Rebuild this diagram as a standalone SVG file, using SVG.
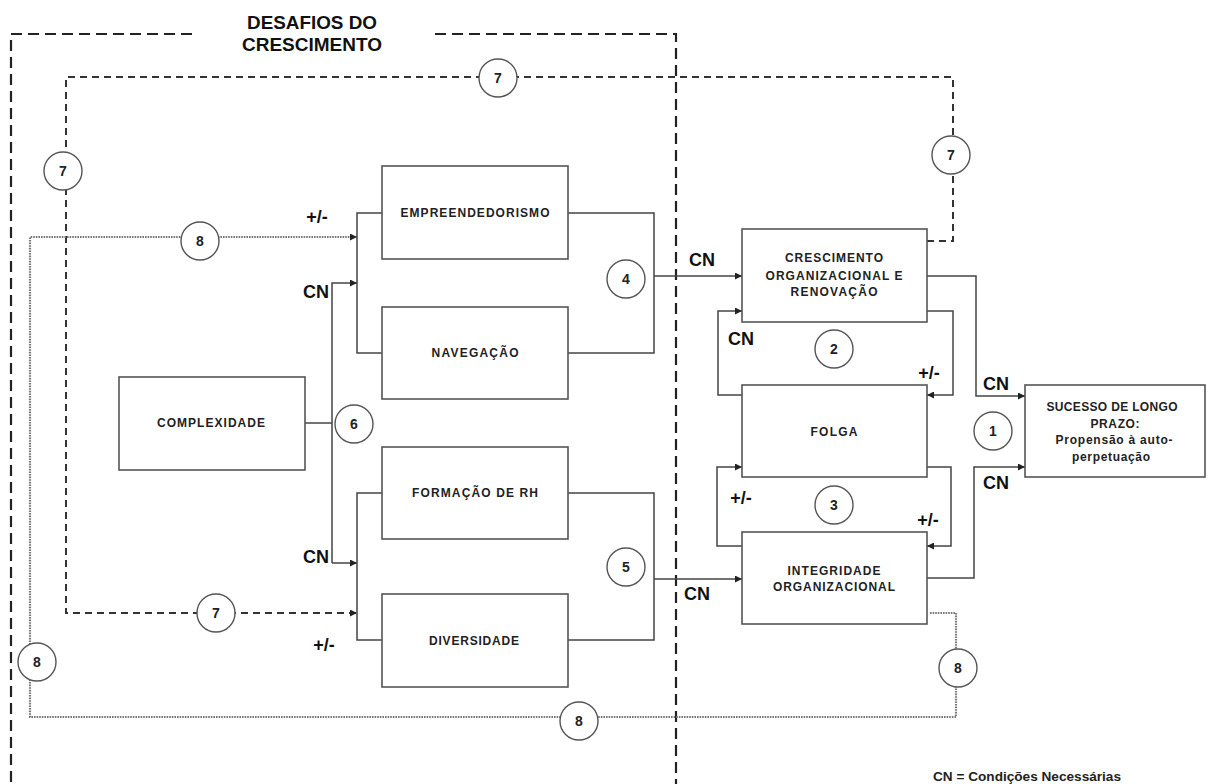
<svg xmlns="http://www.w3.org/2000/svg" width="1209" height="784" viewBox="0 0 1209 784">
<defs>
<style>
.box{fill:#fff;stroke:#555;stroke-width:1.6}
.ln{fill:none;stroke:#444;stroke-width:1.5}
.frame{fill:none;stroke:#222;stroke-width:2.2;stroke-dasharray:11 6}
.d7{fill:none;stroke:#333;stroke-width:2;stroke-dasharray:7 5}
.d8{fill:none;stroke:#777;stroke-width:2.2;stroke-dasharray:1.6 1}
.circ{fill:#fff;stroke:#555;stroke-width:1.4}
.bt{font-family:"Liberation Sans",Arial,sans-serif;font-weight:bold;font-size:12px;fill:#222;text-anchor:middle}
.num{font-family:"Liberation Sans",Arial,sans-serif;font-weight:bold;font-size:14px;fill:#222;text-anchor:middle}
.lab{font-family:"Liberation Sans",Arial,sans-serif;font-weight:bold;font-size:18px;fill:#111;text-anchor:middle}
.title{font-family:"Liberation Sans",Arial,sans-serif;font-weight:bold;font-size:18px;fill:#111;text-anchor:middle}
</style>
<marker id="arr" viewBox="0 0 10 10" refX="10" refY="5" markerWidth="7" markerHeight="7" markerUnits="userSpaceOnUse" orient="auto">
<path d="M0,0 L10,5 L0,10 z" fill="#222"/>
</marker>
</defs>
<rect width="1209" height="784" fill="#fff"/>

<g id="frame">
<path class="frame" d="M192,34 H11 V784"/>
<path class="frame" d="M435,34 H676 V784"/>
<text class="title" x="312" y="29" textLength="130" lengthAdjust="spacingAndGlyphs">DESAFIOS DO</text>
<text class="title" x="312" y="51" textLength="140" lengthAdjust="spacingAndGlyphs">CRESCIMENTO</text>
</g>

<g id="connectors">
<path class="d7" d="M927,241 H953 V77 H66 V613 H357" marker-end="url(#arr)"/>
<path class="d8" d="M930,613 H956 V717 H30 V237 H357" marker-end="url(#arr)"/>
<path class="ln" d="M382,213 H357 V353 H382"/>
<path class="ln" d="M305,423 H332"/>
<path class="ln" d="M332,563 V283 H357" marker-end="url(#arr)"/>
<path class="ln" d="M332,563 H357" marker-end="url(#arr)"/>
<path class="ln" d="M568,213 H654 V353 H568"/>
<path class="ln" d="M654,276 H742" marker-end="url(#arr)"/>
<path class="ln" d="M382,493 H357 V640 H382"/>
<path class="ln" d="M568,493 H654 V640 H568"/>
<path class="ln" d="M654,579 H742" marker-end="url(#arr)"/>
<path class="ln" d="M927,276 H976 V396 H1025" marker-end="url(#arr)"/>
<path class="ln" d="M927,578 H974 V467 H1025" marker-end="url(#arr)"/>
<path class="ln" d="M927,311 H953 V395 H927" marker-end="url(#arr)"/>
<path class="ln" d="M742,395 H718 V311 H742" marker-end="url(#arr)"/>
<path class="ln" d="M927,467 H951 V546 H927" marker-end="url(#arr)"/>
<path class="ln" d="M742,546 H717 V467 H742" marker-end="url(#arr)"/>
<text class="lab" x="317" y="223">+/-</text>
<text class="lab" x="316" y="298">CN</text>
<text class="lab" x="316" y="563">CN</text>
<text class="lab" x="324" y="651">+/-</text>
<text class="lab" x="702" y="266">CN</text>
<text class="lab" x="697" y="600">CN</text>
<text class="lab" x="741" y="345">CN</text>
<text class="lab" x="929" y="379">+/-</text>
<text class="lab" x="741" y="504">+/-</text>
<text class="lab" x="928" y="526">+/-</text>
<text class="lab" x="996" y="390">CN</text>
<text class="lab" x="996" y="489">CN</text>
</g>

<g id="markers">
<g id="c7a"><circle class="circ" cx="498" cy="78" r="19"/><text class="num" x="498" y="83">7</text></g>
<g id="c7b"><circle class="circ" cx="951" cy="155" r="19"/><text class="num" x="951" y="160">7</text></g>
<g id="c7c"><circle class="circ" cx="63" cy="171" r="19"/><text class="num" x="63" y="176">7</text></g>
<g id="c7d"><circle class="circ" cx="216" cy="613" r="19"/><text class="num" x="216" y="618">7</text></g>
<g id="c8a"><circle class="circ" cx="200" cy="241" r="19"/><text class="num" x="200" y="246">8</text></g>
<g id="c8b"><circle class="circ" cx="37" cy="662" r="19"/><text class="num" x="37" y="667">8</text></g>
<g id="c8c"><circle class="circ" cx="579" cy="721" r="19"/><text class="num" x="579" y="726">8</text></g>
<g id="c8d"><circle class="circ" cx="958" cy="668" r="19"/><text class="num" x="958" y="673">8</text></g>
<g id="c1"><circle class="circ" cx="993" cy="431" r="19"/><text class="num" x="993" y="436">1</text></g>
<g id="c2"><circle class="circ" cx="834" cy="349" r="19"/><text class="num" x="834" y="354">2</text></g>
<g id="c3"><circle class="circ" cx="834" cy="505" r="19"/><text class="num" x="834" y="510">3</text></g>
<g id="c4"><circle class="circ" cx="626" cy="279" r="19"/><text class="num" x="626" y="284">4</text></g>
<g id="c5"><circle class="circ" cx="626" cy="567" r="19"/><text class="num" x="626" y="572">5</text></g>
<g id="c6"><circle class="circ" cx="354" cy="424" r="19"/><text class="num" x="354" y="429">6</text></g>
</g>

<g id="empreendedorismo"><rect class="box" x="382" y="166" width="186" height="93"/><text class="bt" x="475" y="217" textLength="149" lengthAdjust="spacing">EMPREENDEDORISMO</text></g>
<g id="navegacao"><rect class="box" x="382" y="307" width="186" height="92"/><text class="bt" x="475" y="357" textLength="87" lengthAdjust="spacing">NAVEGAÇÃO</text></g>
<g id="complexidade"><rect class="box" x="119" y="377" width="186" height="93"/><text class="bt" x="211" y="427" textLength="108" lengthAdjust="spacing">COMPLEXIDADE</text></g>
<g id="formacao"><rect class="box" x="382" y="447" width="186" height="92"/><text class="bt" x="475" y="497" textLength="126" lengthAdjust="spacing">FORMAÇÃO DE RH</text></g>
<g id="diversidade"><rect class="box" x="382" y="594" width="186" height="93"/><text class="bt" x="474" y="645" textLength="90" lengthAdjust="spacing">DIVERSIDADE</text></g>
<g id="crescimento"><rect class="box" x="742" y="229" width="185" height="93"/>
<text class="bt" x="834" y="262" textLength="98" lengthAdjust="spacing">CRESCIMENTO</text>
<text class="bt" x="834" y="280" textLength="137" lengthAdjust="spacing">ORGANIZACIONAL E</text>
<text class="bt" x="834" y="296" textLength="87" lengthAdjust="spacing">RENOVAÇÃO</text></g>
<g id="folga"><rect class="box" x="742" y="385" width="185" height="92"/><text class="bt" x="834" y="436" textLength="47" lengthAdjust="spacing">FOLGA</text></g>
<g id="integridade"><rect class="box" x="742" y="532" width="185" height="92"/>
<text class="bt" x="834" y="575" textLength="93" lengthAdjust="spacing">INTEGRIDADE</text>
<text class="bt" x="834" y="591" textLength="122" lengthAdjust="spacing">ORGANIZACIONAL</text></g>
<g id="sucesso"><rect class="box" x="1025" y="385" width="180" height="92"/>
<text class="bt" x="1112" y="411" textLength="131" lengthAdjust="spacing">SUCESSO DE LONGO</text>
<text class="bt" x="1115" y="428" textLength="49" lengthAdjust="spacing">PRAZO:</text>
<text class="bt" x="1114" y="444" textLength="117" lengthAdjust="spacing">Propensão à auto-</text>
<text class="bt" x="1111" y="461" textLength="78" lengthAdjust="spacing">perpetuação</text></g>

<g id="legend"><text font-family="'Liberation Sans',Arial,sans-serif" font-weight="bold" font-size="12" fill="#222" x="933" y="781" textLength="188" lengthAdjust="spacingAndGlyphs">CN = Condições Necessárias</text></g>
</svg>
